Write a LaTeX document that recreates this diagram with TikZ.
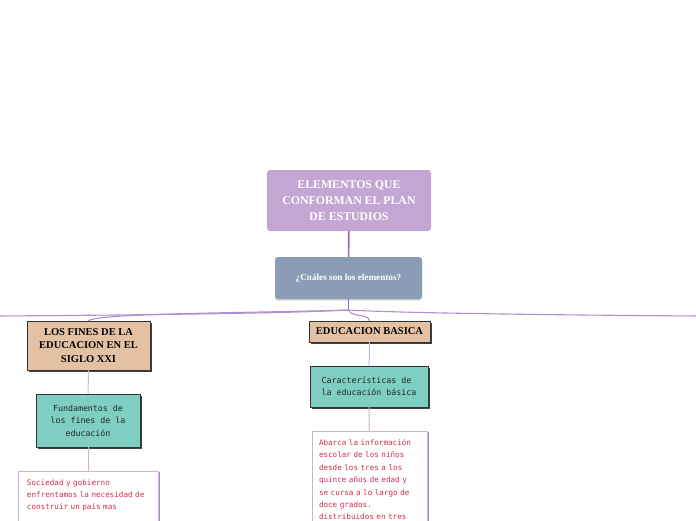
\documentclass[tikz,border=0pt]{standalone}
\usepackage{fontspec}
\setmainfont{Liberation Serif}
\newfontfamily\pixfont{DejaVu Sans Mono}
\usetikzlibrary{shadows}
\definecolor{lila}{HTML}{C3A6D4}
\definecolor{grisazul}{HTML}{8B9DB5}
\definecolor{arena}{HTML}{E3C1A2}
\definecolor{turquesa}{HTML}{7ECEC1}
\definecolor{rojo}{HTML}{CF2D4E}
\definecolor{morado}{HTML}{9A68BE}
\definecolor{lavanda}{HTML}{C9B3DD}
\tikzset{
  every picture/.style={line join=round, line cap=round},
  titulo/.style={fill=lila, rounded corners=3pt, text=white, align=center,
    font=\fontsize{11.8}{16}\selectfont\bfseries, minimum width=164pt, minimum height=61pt},
  pregunta/.style={fill=grisazul, rounded corners=3pt, text=white,
    font=\fontsize{9.2}{11}\selectfont\bfseries, minimum width=147pt, minimum height=42pt,
    general shadow={fill=black!18, shadow yshift=-1.5pt}},
  tema/.style={fill=arena, draw=black!80, line width=0.7pt, align=center,
    font=\fontsize{10.5}{13.7}\selectfont\bfseries,
    general shadow={fill=black!75, shadow xshift=2pt, shadow yshift=-2pt}},
  subtema/.style={fill=turquesa, draw=black!80, line width=0.7pt, align=center,
    font=\pixfont\fontsize{8.3}{12.4}\selectfont, text=black!85,
    general shadow={fill=black!75, shadow xshift=2pt, shadow yshift=-2pt}},
  nota/.style={fill=white, draw=lavanda, line width=0.8pt, align=left, text=rojo,
    font=\pixfont\fontsize{7.6}{12.4}\selectfont, inner ysep=8pt,
    general shadow={fill=morado!80, shadow xshift=2pt, shadow yshift=-1pt}},
  tronco/.style={draw=morado, line width=1.6pt},
  rama/.style={draw=morado!75, line width=1.1pt},
  enlace/.style={draw=lavanda, line width=1pt},
}

\begin{document}
\begin{tikzpicture}[x=1pt,y=-1pt]
\useasboundingbox (0,0) rectangle (696,520);
\node[titulo] (plan) at (349,200.5) {ELEMENTOS QUE\\CONFORMAN EL PLAN\\DE ESTUDIOS};
\node[pregunta] (cuales) at (348.5,278) {¿Cuáles son los elementos?};
\coordinate (hub) at (348.5,310);
\coordinate (izq) at (-4,316);
\coordinate (der) at (700,316);
\node[tema, minimum width=123pt, minimum height=49pt] (fines) at (88.5,345.5) {LOS FINES DE LA\\EDUCACION EN EL\\SIGLO XXI};
\node[tema, minimum width=121pt, minimum height=21pt] (basica) at (369.5,331.5) {EDUCACION BASICA};
\node[subtema, minimum width=104pt, minimum height=53pt] (fundamentos) at (88,420.5) {Fundamentos de\\los fines de la\\educación};
\node[subtema, minimum width=118pt, minimum height=41pt, align=left] (caract) at (369,386.5) {Características de\\la educación básica};
\node[nota, text width=122pt, inner xsep=9pt, anchor=north, text depth=50pt] (sociedad) at (88,471)
  {Sociedad y gobierno\\enfrentamos la necesidad de\\construir un país mas};
\node[nota, text width=101pt, inner xsep=7pt, anchor=north, text depth=95pt] (abarca) at (369.5,431)
  {Abarca la información\\escolar de los niños\\desde los tres a los\\quince años de edad y\\se cursa a lo largo de\\doce grados.\\distribuidos en tres};
\draw[tronco] (plan) -- (cuales);
\draw[tronco] (cuales) -- (hub);
\draw[rama] (hub) .. controls (300,313) and (150,315) .. (izq);
\draw[rama] (hub) .. controls (400,313) and (550,315) .. (der);
\draw[rama] (hub) .. controls (250,313) and (100,313) .. (fines.north);
\draw[rama] (hub) .. controls (352,318) and (368,313) .. (basica.north);
\draw[enlace] (fines) -- (fundamentos);
\draw[enlace] (fundamentos) -- (sociedad);
\draw[enlace] (basica) -- (caract);
\draw[enlace] (caract) -- (abarca);
\end{tikzpicture}
\end{document}
